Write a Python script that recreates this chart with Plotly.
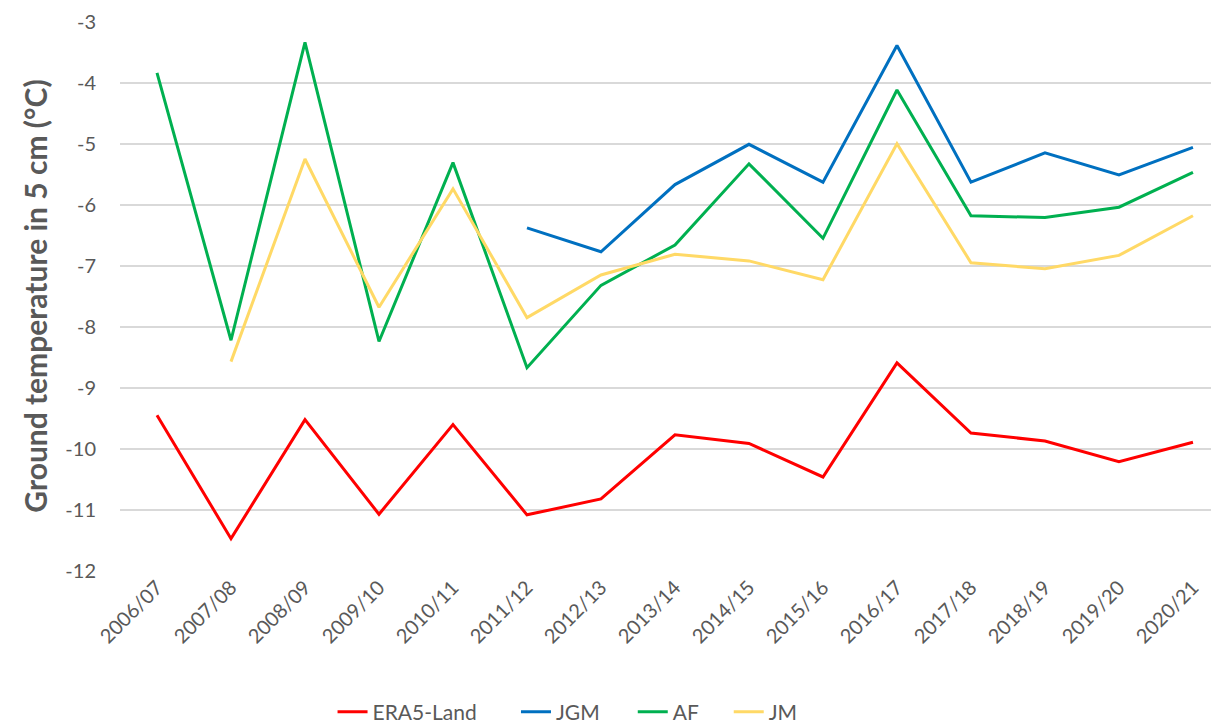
import plotly.graph_objects as go

seasons = ["2006/07", "2007/08", "2008/09", "2009/10", "2010/11", "2011/12", "2012/13",
           "2013/14", "2014/15", "2015/16", "2016/17", "2017/18", "2018/19", "2019/20", "2020/21"]
era5_land = [-9.45, -11.47, -9.52, -11.07, -9.60, -11.08, -10.82, -9.77, -9.91, -10.46, -8.59, -9.74, -9.87, -10.21, -9.89]
jgm = [None, None, None, None, None, -6.38, -6.77, -5.67, -5.01, -5.63, -3.39, -5.63, -5.15, -5.51, -5.06]
af = [-3.84, -8.22, -3.34, -8.24, -5.31, -8.67, -7.32, -6.66, -5.33, -6.55, -4.12, -6.18, -6.21, -6.04, -5.47]
jm = [None, -8.57, -5.25, -7.68, -5.74, -7.85, -7.15, -6.81, -6.92, -7.23, -5.00, -6.95, -7.05, -6.83, -6.18]

y_ticks = [-12, -11, -10, -9, -8, -7, -6, -5, -4, -3]
y_tick_labels = ["-12", "-11", "-10", "-9", "-8", "-7", "-6", "-5", "-4", "-3"]

series = [("ERA5-Land", era5_land, "#FF0000"),
          ("JGM", jgm, "#0070C0"),
          ("AF", af, "#00B050"),
          ("JM", jm, "#FFD966")]

# legend anchor positions (paper x) for each series' legend
legend_x = [0.192, 0.3577, 0.4632, 0.5499]
legend_ids = ["legend", "legend2", "legend3", "legend4"]

fig = go.Figure()
for (name, vals, color), lid in zip(series, legend_ids):
    fig.add_trace(go.Scatter(x=seasons, y=vals, name=name, mode="lines",
                             line=dict(color=color, width=3), connectgaps=False,
                             legend=lid))

font_family = "Lato, 'Open Sans', sans-serif"
legend_common = dict(orientation="h", xanchor="left", y=-0.2564, yanchor="middle",
                     font=dict(size=21, color="#595959"), bgcolor="rgba(0,0,0,0)")
layout_legends = {}
for lid, lx in zip(legend_ids, legend_x):
    layout_legends[lid] = dict(x=lx, **legend_common)

fig.update_layout(
    width=1219, height=727,
    margin=dict(l=112, r=0, t=13, b=164),
    plot_bgcolor="white", paper_bgcolor="white",
    font=dict(family=font_family, color="#595959", size=19),
    showlegend=True,
    xaxis=dict(type="category", range=[-0.5, 14.46], tickangle=-45, showgrid=False,
               zeroline=False, showline=False, ticks="", automargin=False,
               tickfont=dict(size=20, color="#595959")),
    yaxis=dict(range=[-12, -2.99], tickvals=y_ticks, ticktext=y_tick_labels,
               showgrid=True, gridcolor="#D9D9D9", gridwidth=2,
               zeroline=False, showline=False, ticks="", ticklabelstandoff=23, automargin=False,
               ticklabeloverflow="allow",
               tickfont=dict(size=20, color="#595959"),
               title=dict(text="<b>Ground temperature in 5 cm (°C)</b>", font=dict(size=30, color="#595959"),
                          standoff=8)),
    **layout_legends,
)
fig.write_html("out.html")
